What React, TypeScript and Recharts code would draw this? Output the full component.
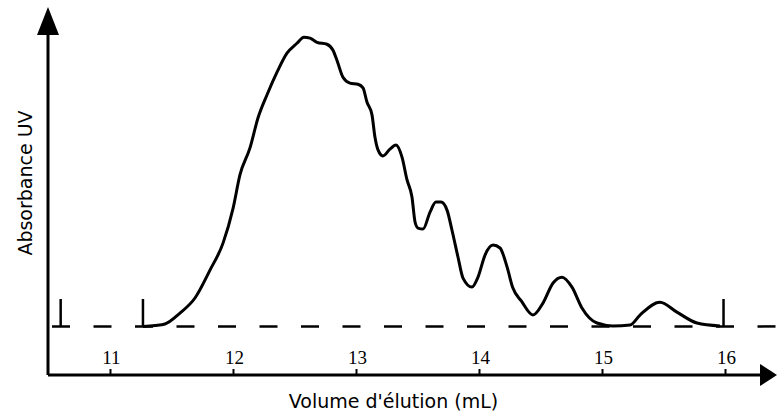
import { LineChart, Line, XAxis, YAxis, ReferenceLine, Label } from "recharts";

// Elution volume (mL) and UV absorbance (arbitrary units, baseline = 0)
const volume = [
  11.264, 11.362, 11.443, 11.565, 11.687, 11.809, 11.915, 11.996, 12.053, 12.134,
  12.199, 12.272, 12.354, 12.435, 12.516, 12.573, 12.622, 12.679, 12.76, 12.809,
  12.841, 12.89, 12.947, 13.012, 13.053, 13.085, 13.126, 13.15, 13.175, 13.215,
  13.272, 13.321, 13.37, 13.411, 13.451, 13.476, 13.5, 13.541, 13.598, 13.646,
  13.687, 13.736, 13.776, 13.825, 13.866, 13.939, 13.988, 14.045, 14.11, 14.167,
  14.224, 14.27, 14.34, 14.435, 14.516, 14.598, 14.671, 14.752, 14.833, 14.955,
  15.085, 15.224, 15.305, 15.467, 15.605, 15.768, 15.955,
];
const absorbance = [
  0.0, 0.004, 0.01, 0.055, 0.117, 0.232, 0.343, 0.485, 0.625, 0.735,
  0.858, 0.953, 1.047, 1.125, 1.166, 1.191, 1.187, 1.17, 1.162, 1.137,
  1.096, 1.026, 1.002, 0.997, 0.982, 0.924, 0.871, 0.78, 0.727, 0.702,
  0.73, 0.747, 0.697, 0.603, 0.533, 0.43, 0.405, 0.401, 0.471, 0.512,
  0.512, 0.479, 0.397, 0.286, 0.199, 0.162, 0.203, 0.294, 0.335, 0.323,
  0.245, 0.16, 0.105, 0.047, 0.096, 0.179, 0.203, 0.162, 0.076, 0.014,
  0.002, 0.006, 0.047, 0.1, 0.059, 0.014, 0.002,
];
const xTicks = [11, 12, 13, 14, 15, 16];
// fraction collection marks on the baseline
const markers = [10.595, 11.264, 15.984];
const markerHeight = 0.113;

const xDomain: [number, number] = [10.492, 16.2805];
const yDomain: [number, number] = [-0.2, 1.2];
const baselineEnd = 16.42;

const data = volume.map((v, i) => ({ v, a: absorbance[i] }));

const serif = "'Liberation Serif', 'Times New Roman', serif";
const sans = "'DejaVu Sans', Verdana, sans-serif";

function VolumeTick(props: any) {
  const { x, y, payload } = props;
  return (
    <g>
      <line x1={x} x2={x} y1={y - 6} y2={y} stroke="#000" strokeWidth={2} />
      <text
        x={x + 1}
        y={y - 11}
        textAnchor="middle"
        fill="#000"
        style={{ fontFamily: serif, fontSize: 19 }}
      >
        {payload.value}
      </text>
    </g>
  );
}

function XTitle(props: any) {
  const vb = props.viewBox;
  return (
    <text
      x={vb.x + vb.width / 2 - 10.5}
      y={vb.y + 33}
      textAnchor="middle"
      fill="#000"
      style={{ fontFamily: sans, fontSize: 19 }}
    >
      Volume d'élution (mL)
    </text>
  );
}

function YTitle(props: any) {
  const vb = props.viewBox;
  const x = vb.x + 32;
  const y = vb.y + vb.height / 2 - 22;
  return (
    <text
      x={x}
      y={y}
      transform={`rotate(-90, ${x}, ${y})`}
      textAnchor="middle"
      fill="#000"
      style={{ fontFamily: sans, fontSize: 19 }}
    >
      Absorbance UV
    </text>
  );
}

export default function App() {
  return (
    <div style={{ position: "absolute", left: 0, top: 0, width: 777, height: 416, background: "#fff" }}>
      <LineChart width={777} height={416} data={data} margin={{ top: 35, right: 17, bottom: 0, left: 0 }}>
        <defs>
          <marker
            id="arrowUp"
            markerUnits="userSpaceOnUse"
            viewBox="0 0 28 22"
            markerWidth={28}
            markerHeight={22}
            refX={0}
            refY={11}
            orient="auto-start-reverse"
          >
            <path d="M0,0 L28,11 L0,22 Z" fill="#000" />
          </marker>
          <marker
            id="arrowRight"
            markerUnits="userSpaceOnUse"
            viewBox="0 0 17 22"
            markerWidth={17}
            markerHeight={22}
            refX={0}
            refY={11}
            orient="auto"
          >
            <path d="M0,0 L17,11 L0,22 Z" fill="#000" />
          </marker>
        </defs>
        <XAxis
          dataKey="v"
          type="number"
          domain={xDomain}
          ticks={xTicks}
          allowDataOverflow
          height={41}
          tickSize={0}
          tickMargin={0}
          tickLine={false}
          axisLine={{ stroke: "#000", strokeWidth: 3, markerEnd: "url(#arrowRight)" }}
          tick={<VolumeTick />}
          label={<Label content={<XTitle />} />}
        />
        <YAxis
          type="number"
          domain={yDomain}
          allowDataOverflow
          width={48}
          tick={false}
          tickLine={false}
          axisLine={{ stroke: "#000", strokeWidth: 3, markerStart: "url(#arrowUp)" }}
          label={<Label content={<YTitle />} />}
        />
        <ReferenceLine
          segment={[
            { x: xDomain[0], y: 0 },
            { x: baselineEnd, y: 0 },
          ]}
          ifOverflow="visible"
          stroke="#000"
          strokeWidth={2.5}
          strokeDasharray="18 23.5"
          strokeDashoffset={37.5}
        />
        {markers.map((m) => (
          <ReferenceLine
            key={m}
            segment={[
              { x: m, y: 0 },
              { x: m, y: markerHeight },
            ]}
            ifOverflow="visible"
            stroke="#000"
            strokeWidth={2.5}
          />
        ))}
        <Line
          type="monotone"
          dataKey="a"
          stroke="#000"
          strokeWidth={3}
          dot={false}
          activeDot={false}
          isAnimationActive={false}
        />
      </LineChart>
    </div>
  );
}
